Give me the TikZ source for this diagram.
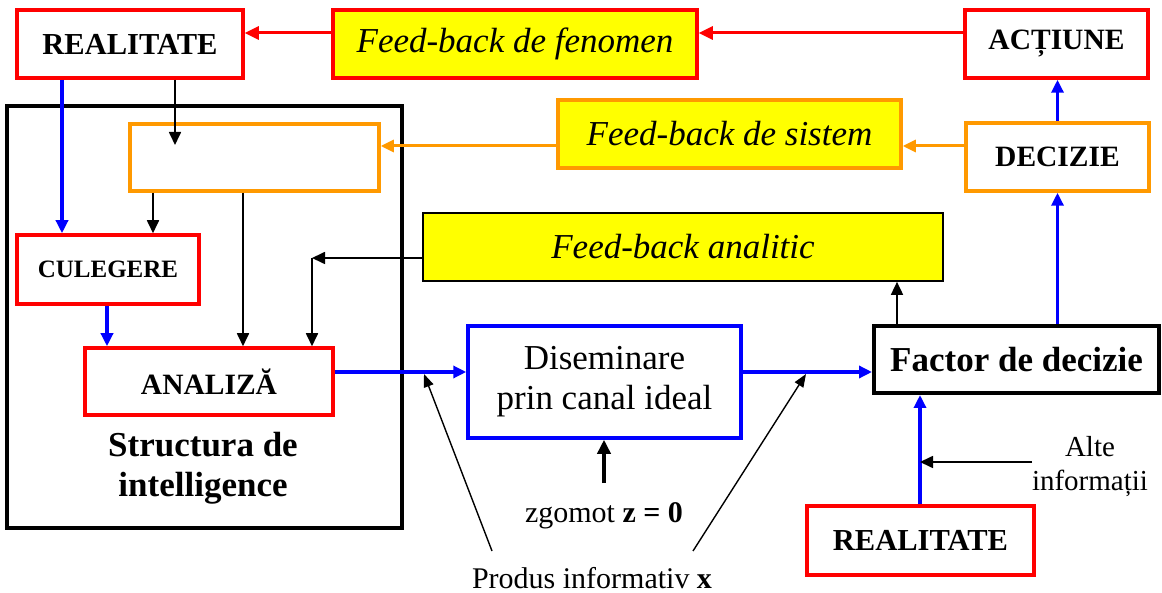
\documentclass[tikz,border=0pt]{standalone}
\usepackage{fontspec}
\setmainfont{Liberation Serif}
\usetikzlibrary{arrows.meta}
\definecolor{myred}{RGB}{255,0,0}
\definecolor{myyel}{RGB}{255,255,0}
\definecolor{myor}{RGB}{255,153,0}
\definecolor{myblue}{RGB}{0,0,255}
\begin{document}
\begin{tikzpicture}[x=1pt,y=-1pt,
  box/.style={draw, rectangle, inner sep=0pt, line width=3.5pt},
  redbox/.style={box, draw=myred, font=\fontsize{29.5}{34}\selectfont\bfseries},
  orbox/.style={box, draw=myor, font=\fontsize{29.5}{34}\selectfont\bfseries},
  fbbox/.style={box, fill=myyel, font=\fontsize{35}{40}\selectfont\itshape},
  redarr/.style={draw=myred, line width=3pt, -{Triangle[length=14pt,width=13pt]}},
  orarr/.style={draw=myor, line width=3pt, -{Triangle[length=13pt,width=12pt]}},
  bluarr/.style={draw=myblue, line width=3.5pt, -{Triangle[length=13pt,width=12pt]}},
  blkarr/.style={draw=black, line width=1.7pt, -{Triangle[length=13pt,width=12pt]}},
  thinarr/.style={draw=black, line width=1.4pt, -{Triangle[length=13pt,width=10pt]}},
  lbl/.style={inner sep=0pt}
]
\useasboundingbox (0,0) rectangle (1162,593);

% boxes
\node[redbox, font=\fontsize{30.5}{34}\selectfont\bfseries, minimum width=226pt, minimum height=68pt] (realTL) at (130,44) {REALITATE};
\node[fbbox, draw=myred, minimum width=364pt, minimum height=68pt] (fenomen) at (515,44) {Feed-back de fenomen};
\node[redbox, minimum width=183pt, minimum height=68pt] (actiune) at (1056.5,44) {ACȚIUNE};
\node[box, draw=black, minimum width=395pt, minimum height=422pt] (big) at (204.5,317) {};
\node[box, draw=myor, minimum width=249pt, minimum height=67pt] (orb) at (254.5,157.5) {};
\node[fbbox, draw=myor, minimum width=343pt, minimum height=68pt] (sistem) at (729.5,134) {Feed-back de sistem};
\node[orbox, minimum width=183pt, minimum height=68pt] (decizie) at (1057.5,157) {DECIZIE};
\node[fbbox, draw=black, line width=1.7pt, minimum width=520pt, minimum height=68pt] (analitic) at (683,247) {Feed-back analitic};
\node[redbox, font=\fontsize{25}{30}\selectfont\bfseries, minimum width=182pt, minimum height=69pt] (culegere) at (108,269.5) {CULEGERE};
\node[redbox, minimum width=248pt, minimum height=67pt] (analiza) at (209,381.5) {ANALIZĂ};
\node[box, draw=myblue, align=center, font=\fontsize{35}{40}\selectfont, minimum width=273pt, minimum height=112pt] (disem) at (604.5,382) {Diseminare\\prin canal ideal};
\node[box, draw=black, line width=4pt, font=\fontsize{35}{40}\selectfont\bfseries, minimum width=285pt, minimum height=67pt] (factor) at (1016.5,359.5) {Factor de decizie};
\node[redbox, font=\fontsize{30.5}{34}\selectfont\bfseries, minimum width=227pt, minimum height=69pt] (realBR) at (920.5,540.5) {REALITATE};

% texts
\node[lbl, align=center, font=\fontsize{35}{40}\selectfont\bfseries] (struct) at (203,468) {Structura de\\intelligence};
\node[lbl, align=center, font=\fontsize{29}{34}\selectfont] (alte) at (1090,467) {Alte\\informații};
\node[lbl, anchor=base, font=\fontsize{30}{34}\selectfont] (zg) at (604,522) {zgomot \textbf{z = 0}};
\node[lbl, anchor=base, font=\fontsize{30}{34}\selectfont] (prod) at (592,588) {Produs informativ \textbf{x}};

% helper coordinates
\coordinate (o1) at ([yshift=11pt]decizie.west);
\coordinate (h) at (0,372);
\coordinate (c1) at (312,258);
\coordinate (r1) at (175,145);
\coordinate (b1) at (62,0);
\coordinate (k1) at (153,0);
\coordinate (k2) at (243,0);
\coordinate (k3) at (107,0);
\coordinate (fa) at (897,0);
\coordinate (rb) at (920,0);
\coordinate (ai) at (1032,462);
\coordinate (zgtop) at (604,483);
\coordinate (p1) at (492,551);
\coordinate (p2) at (693,551);
\coordinate (t1) at (424,374);
\coordinate (t2) at (806,374);

% red arrows
\draw[redarr] ([yshift=11pt]actiune.west) -- ([yshift=11pt]fenomen.east);
\draw[redarr] ([yshift=11pt]fenomen.west) -- ([yshift=11pt]realTL.east);
% orange arrows
\draw[orarr] (o1) -- (o1 -| sistem.east);
\draw[orarr] (o1 -| sistem.west) -- (o1 -| orb.east);
% blue arrows right column
\draw[bluarr] (decizie.north) -- (decizie.north |- actiune.south);
\draw[bluarr] (decizie.south |- factor.north) -- (decizie.south);
% black: factor -> analitic
\draw[blkarr] (fa |- factor.north) -- (fa |- analitic.south);
% black: analitic -> corner -> analiza
\draw[blkarr] (c1 -| analitic.west) -- (c1);
\draw[blkarr] (c1) -- (c1 |- analiza.north);
% left column
\draw[blkarr] (r1 |- realTL.south) -- (r1);
\draw[bluarr] (b1 |- realTL.south) -- (b1 |- culegere.north);
\draw[blkarr] (k1 |- orb.south) -- (k1 |- culegere.north);
\draw[blkarr] (k2 |- orb.south) -- (k2 |- analiza.north);
\draw[bluarr] (k3 |- culegere.south) -- (k3 |- analiza.north);
% main horizontal flow
\draw[bluarr] (h -| analiza.east) -- (h -| disem.west);
\draw[bluarr] (h -| disem.east) -- (h -| factor.west);
\draw[bluarr, line width=4.5pt] (rb |- realBR.north) -- (rb |- factor.south);
\draw[blkarr] (ai) -- (ai -| rb);
% noise and product
\draw[draw=black, line width=3.5pt, -{Triangle[length=14pt,width=13pt]}] (zgtop) -- (zgtop |- disem.south);
\draw[thinarr] (p1) -- (t1);
\draw[thinarr] (p2) -- (t2);
\end{tikzpicture}
\end{document}
